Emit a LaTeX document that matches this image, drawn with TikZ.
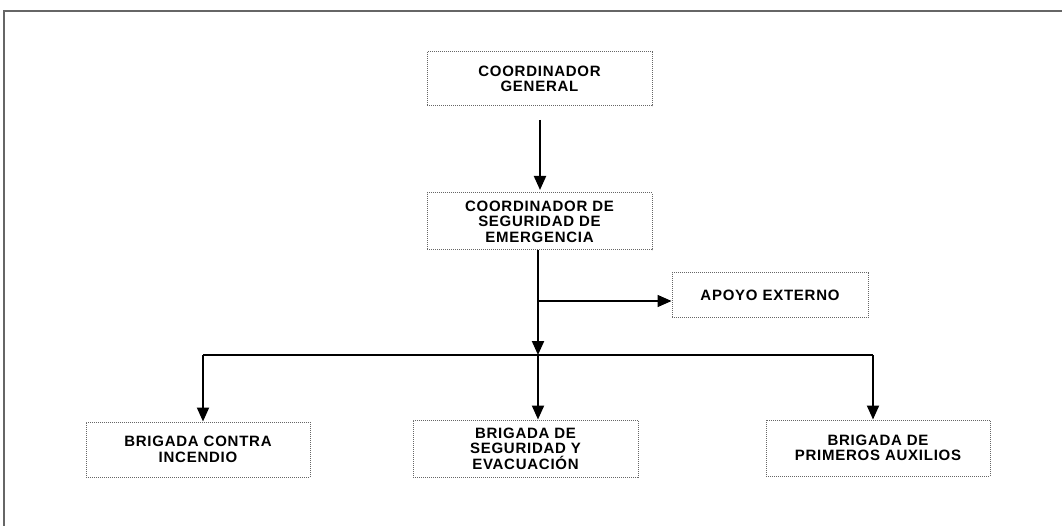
\documentclass[tikz,border=0pt]{standalone}
\usepackage{fontspec}
\setmainfont[LetterSpace=5]{Liberation Sans}
\usetikzlibrary{arrows.meta}
\begin{document}
\begin{tikzpicture}[x=1pt,y=-1pt,
  box/.style={draw=black!60, densely dotted, line width=1pt, fill=white, align=center,
    font=\fontsize{15}{15.5}\selectfont\bfseries, inner sep=0pt},
  link/.style={line width=2pt, -{Triangle[length=14pt,width=12pt]}},
  plain/.style={line width=1.8pt}]
\useasboundingbox (0,0) rectangle (1062,526);
\draw[black!60, line width=1.5pt] (4,526) -- (4,11) -- (1062,11);
\node[box, minimum width=225pt, minimum height=54pt] (cg) at (539.5,79) {COORDINADOR\\GENERAL};
\node[box, minimum width=225pt, minimum height=57pt] (cs) at (539.5,221.5) {COORDINADOR DE\\SEGURIDAD DE\\EMERGENCIA};
\node[box, minimum width=196pt, minimum height=45pt] (ae) at (770,295.5) {APOYO EXTERNO};
\node[box, minimum width=224pt, minimum height=55pt] (bc) at (198,449.5) {BRIGADA CONTRA\\INCENDIO};
\node[box, minimum width=225pt, minimum height=57pt] (bs) at (525.5,448.5) {BRIGADA DE\\SEGURIDAD Y\\EVACUACIÓN};
\node[box, minimum width=224pt, minimum height=56pt] (bp) at (878,448) {BRIGADA DE\\PRIMEROS AUXILIOS};
\coordinate (j1) at (538,301);
\coordinate (j2) at (538,355);
\coordinate (hl) at (203,355);
\coordinate (hr) at (873,355);
\draw[link] (540,120) -- (540,190);
\draw[plain] (cs.south -| j1) -- (j1);
\draw[link] (j1) -- (j2);
\draw[link, line width=1.5pt] (j1) -- (j1 -| ae.west);
\draw[link] (j2) -- (j2 |- bs.north);
\draw[plain] (hl) -- (hr);
\draw[link] (hl) -- (hl |- bc.north);
\draw[link] (hr) -- (hr |- bp.north);
\end{tikzpicture}
\end{document}
